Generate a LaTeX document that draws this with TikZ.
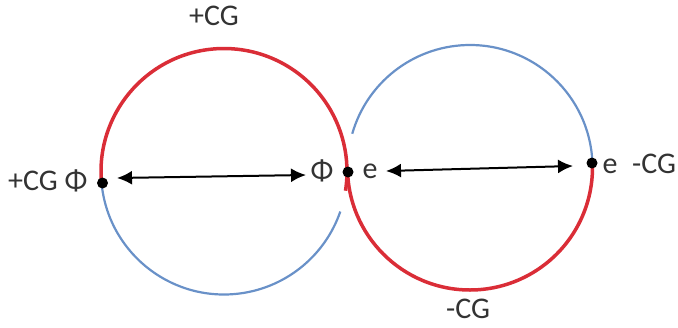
\documentclass[tikz,border=0pt]{standalone}
\usepackage{fontspec}
\setmainfont{Carlito}
\usetikzlibrary{arrows.meta}
\definecolor{cred}{RGB}{218,45,55}
\definecolor{cblue}{RGB}{105,145,200}
\begin{document}
\begin{tikzpicture}[x=1pt,y=-1pt,
 redarc/.style={cred,line width=3.5pt},
 bluearc/.style={cblue,line width=2.2pt},
 dotnode/.style={circle,fill=black,inner sep=0pt,minimum size=11pt},
 lbl/.style={inner sep=0pt,anchor=base,font=\fontsize{30}{34}\selectfont,text=black!80},
 arr/.style={{Latex[length=15pt,width=14pt]}-{Latex[length=15pt,width=14pt]},line width=2pt}]
\useasboundingbox (0,0) rectangle (678,327);
% left circle (y axis points down, so angles are mirrored)
\coordinate (Lc) at (224,171.5);
\draw[bluearc] (Lc) ++(-185.4:123) arc[start angle=-185.4,end angle=-341,radius=123];
\draw[redarc] (Lc) ++(-185.4:123) arc[start angle=-185.4,end angle=9,radius=123];
% right circle
\coordinate (Rc) at (470,167.5);
\draw[bluearc] (Rc) ++(-2:122.5) arc[start angle=-2,end angle=-164,radius=122.5];
\draw[redarc] (Rc) ++(-180:122.5) arc[start angle=-180,end angle=-362,radius=122.5];
% dots
\node[dotnode] (dL) at (102.5,183) {};
\node[dotnode] (dM) at (348,172) {};
\node[dotnode] (dR) at (592,163) {};
% arrows
\coordinate (a1) at (117,178);
\coordinate (a2) at (306,175);
\coordinate (b1) at (386,171);
\coordinate (b2) at (573,166);
\draw[arr] (a1) -- (a2);
\draw[arr] (b1) -- (b2);
% labels
\node[lbl,anchor=base west] (tl) at (8,190) {+CG Φ};
\node[lbl] (phim) at (322,180) {Φ};
\node[lbl] (em) at (370,178) {e};
\node[lbl] (er) at (610,173) {e};
\node[lbl,anchor=base west] (cgr) at (632,173) {-CG};
\node[lbl] (ct) at (214,25) {+CG};
\node[lbl] (cb) at (468,318) {-CG};
\end{tikzpicture}
\end{document}
